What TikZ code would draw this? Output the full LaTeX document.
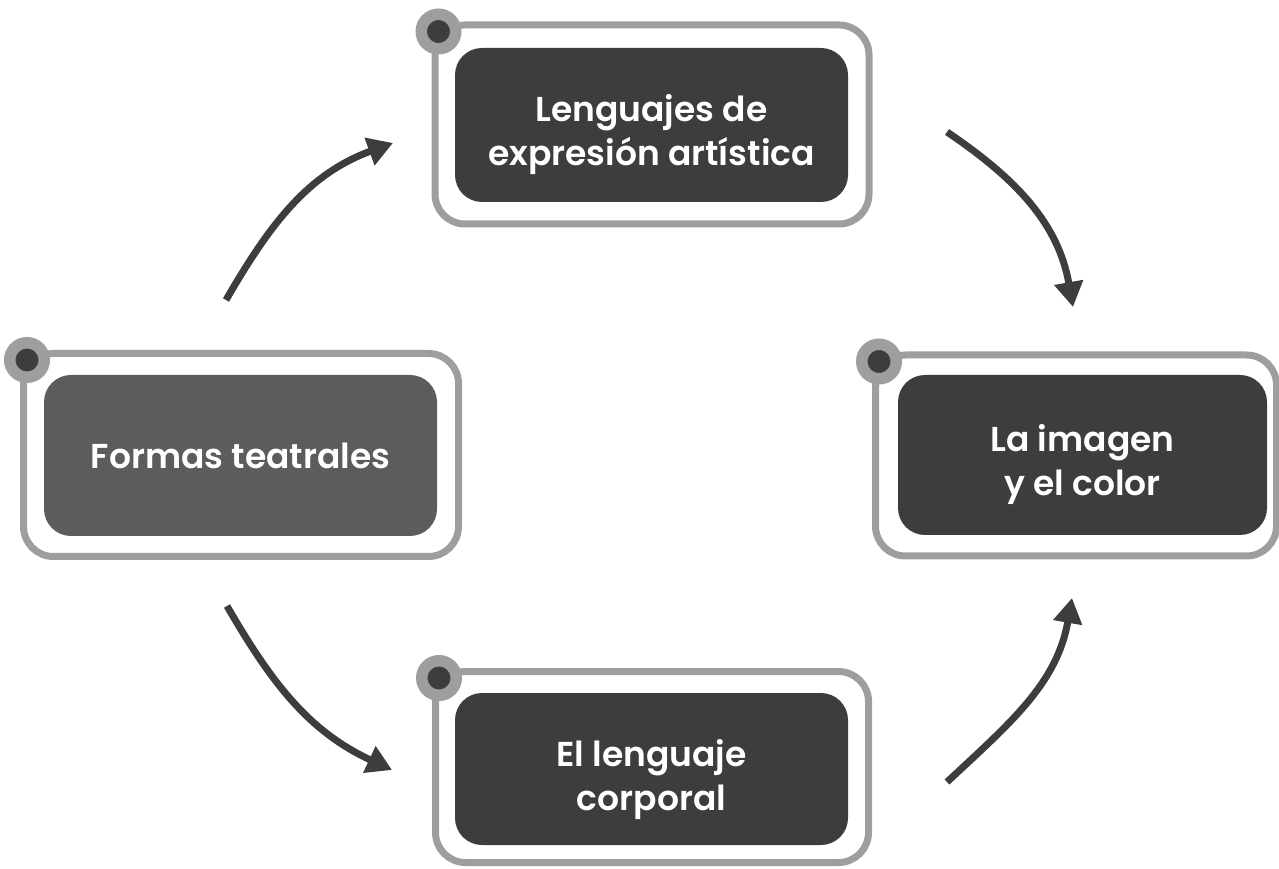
\documentclass[tikz,border=0pt]{standalone}
\usepackage{fontspec}
\setmainfont{Poppins}[BoldFont={* SemiBold}]
\usetikzlibrary{arrows.meta}

\definecolor{framegray}{HTML}{9E9E9E}
\definecolor{boxdark}{HTML}{3D3D3D}
\definecolor{boxmid}{HTML}{5C5C5C}

\tikzset{twoline/.style={text height=88pt,text depth=6pt}}

\begin{document}
\begin{tikzpicture}[x=1pt,y=1pt]
\useasboundingbox (0,0) rectangle (1279,868);

% outer frames
\begin{scope}[every node/.style={rectangle,draw=framegray,line width=7pt,rounded corners=30pt,inner sep=0pt}]
    \node[minimum width=434pt,minimum height=199pt] (Tframe) at (652,743.5) {};
    \node[minimum width=435pt,minimum height=203pt] (Fframe) at (241,413) {};
    \node[minimum width=401pt,minimum height=201pt] (Iframe) at (1076,412.5) {};
    \node[minimum width=433pt,minimum height=191pt] (Cframe) at (652,101) {};
\end{scope}

% inner boxes
\begin{scope}[every node/.style={rectangle,rounded corners=27pt,fill=boxdark,text=white,align=center,
              minimum width=393pt,inner sep=0pt,font=\bfseries\fontsize{34.5}{44}\selectfont}]
    \node[twoline,minimum height=154pt] (T) at (651.5,743) {Lenguajes de\\expresión artística};
    \node[fill=boxmid,minimum height=161pt] (F) at (240.5,412.5) {Formas teatrales};
    \node[twoline,minimum width=369pt,minimum height=160pt] (I) at (1082.5,413) {La imagen\\y el color};
    \node[twoline,minimum height=152pt] (C) at (651.5,99) {El lenguaje\\corporal};
\end{scope}

% corner dots
\begin{scope}[every node/.style={circle,fill=boxdark,draw=framegray,line width=11.5pt,minimum size=34.5pt,inner sep=0pt}]
    \node (Tdot) at ([shift={(7,-10)}]Tframe.north west) {};
    \node (Fdot) at ([shift={(7,-10)}]Fframe.north west) {};
    \node (Idot) at ([shift={(7,-10)}]Iframe.north west) {};
    \node (Cdot) at ([shift={(7,-10)}]Cframe.north west) {};
\end{scope}

% arrow ends
\coordinate (ftop) at (226,568);
\coordinate (ttip) at (393,725);
\coordinate (tright) at (947,736);
\coordinate (itop) at (1073,561);
\coordinate (cright) at (947,86);
\coordinate (ibot) at (1072,270);
\coordinate (fbot) at (227,262);
\coordinate (ctip) at (392,98);

\begin{scope}[>={Triangle[length=25pt,width=28pt]},
              every edge/.style={draw=boxdark,line width=7pt}]
    \path [->] (ftop) edge[out=60,in=200] (ttip);
    \path [->] (tright) edge[out=-34,in=100] (itop);
    \path [->] (cright) edge[out=43,in=260] (ibot);
    \path [->] (fbot) edge[out=-60,in=155] (ctip);
\end{scope}
\end{tikzpicture}
\end{document}
